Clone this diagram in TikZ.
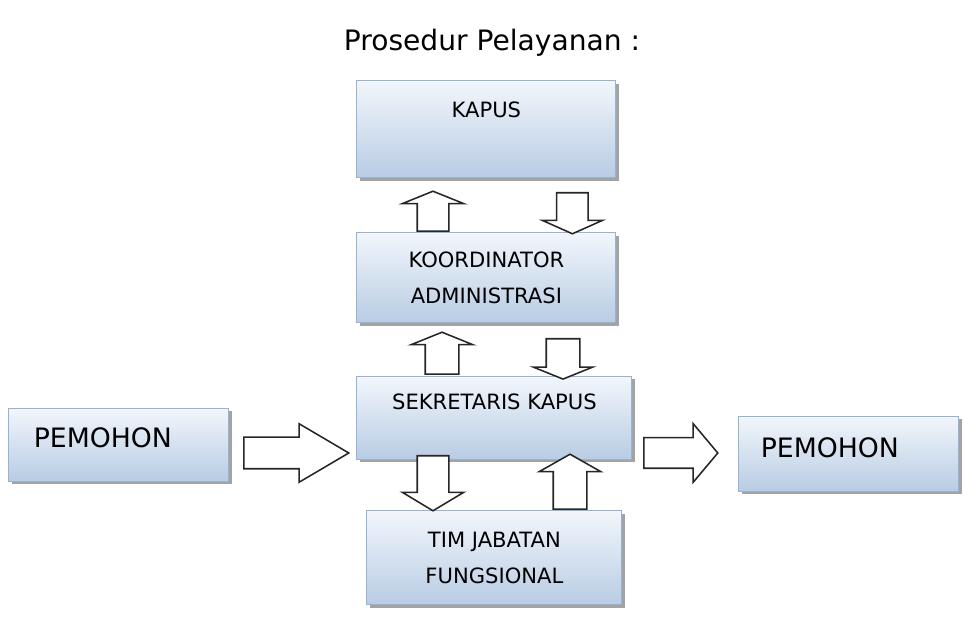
\documentclass[tikz,border=0pt]{standalone}
\usepackage{fontspec}
\setmainfont{DejaVu Sans}
\usetikzlibrary{shapes.arrows, shadows}
\definecolor{boxline}{RGB}{149,179,215}
\definecolor{boxtop}{RGB}{242,246,251}
\definecolor{boxbottom}{RGB}{184,204,228}
\tikzstyle{unit} = [rectangle, draw=boxline, line width=0.8pt, top color=boxtop, bottom color=boxbottom, drop shadow={shadow xshift=0.07cm, shadow yshift=-0.08cm, fill=black!45, opacity=0.8}, font=\fontsize{15}{26}\selectfont, align=center]
\tikzstyle{client} = [unit, font=\fontsize{19}{23}\selectfont, minimum width=5.5cm, align=left]
\tikzstyle{blockarrow} = [single arrow, draw=black!85, line width=1.1pt, fill=white, anchor=tail, inner sep=0.375cm, single arrow head extend=0.375cm]
\tikzstyle{arrowup} = [blockarrow, shape border rotate=90]
\tikzstyle{arrowdown} = [blockarrow, shape border rotate=270]
\tikzstyle{arrowright} = [blockarrow, shape border rotate=0]

\begin{document}
\begin{tikzpicture}[node distance=3.5cm]
    \useasboundingbox (0,0) rectangle (24.4,15.625);
    \node (title) [font=\fontsize{20}{24}\selectfont] at (12.3,14.55) {Prosedur Pelayanan :};
    \node (kapus) [unit, minimum width=6.475cm, minimum height=2.425cm, text depth=1cm] at (12.16,12.39) {KAPUS};
    \node (koor) [unit, below of=kapus, yshift=-0.21cm, minimum width=6.475cm, minimum height=2.25cm] {KOORDINATOR\\ADMINISTRASI};
    \node (sek) [unit, below of=koor, xshift=0.2cm, minimum width=6.875cm, minimum height=2.075cm, text depth=0.825cm] {SEKRETARIS KAPUS};
    \node (tim) [unit, below of=sek, minimum width=6.375cm, minimum height=2.35cm] {TIM JABATAN\\FUNGSIONAL};
    \node (peml) [client, left of=sek, xshift=-5.89cm, yshift=-0.67cm, minimum height=1.825cm, inner xsep=0.625cm, text width=4.25cm, text depth=0.375cm] {PEMOHON};
    \node (pemr) [client, right of=sek, xshift=5.36cm, yshift=-0.9cm, minimum height=1.875cm, inner xsep=0.55cm, text width=4.4cm, text depth=0.33cm] {PEMOHON};

    \node (koorup) [arrowup, minimum height=1cm, single arrow tip angle=136] at (10.825,9.825) {};
    \node (kapusdown) [arrowdown, minimum height=1.025cm, single arrow head extend=0.3625cm, single arrow tip angle=132] at (14.31,10.825) {};
    \node (sekup) [arrowup, minimum height=1.05cm, inner sep=0.4cm, single arrow head extend=0.35cm, single arrow tip angle=136] at (11.05,6.25) {};
    \node (koordown) [arrowdown, minimum height=0.925cm, inner sep=0.4cm, single arrow head extend=0.325cm, single arrow tip angle=136] at (14.075,7.175) {};
    \node (sekdown) [arrowdown, minimum height=1.375cm, single arrow tip angle=118] at (10.825,4.25) {};
    \node (timup) [arrowup, minimum height=1.375cm, inner sep=0.4cm, single arrow head extend=0.35cm, single arrow tip angle=121] at (14.25,2.875) {};
    \node (pemin) [arrowright, minimum height=2.625cm, single arrow head extend=0.3375cm, single arrow tip angle=61] at (6.075,4.3) {};
    \node (pemout) [arrowright, minimum height=1.85cm, inner sep=0.3625cm, single arrow head extend=0.35cm, single arrow tip angle=100] at (16.075,4.3) {};
\end{tikzpicture}
\end{document}
